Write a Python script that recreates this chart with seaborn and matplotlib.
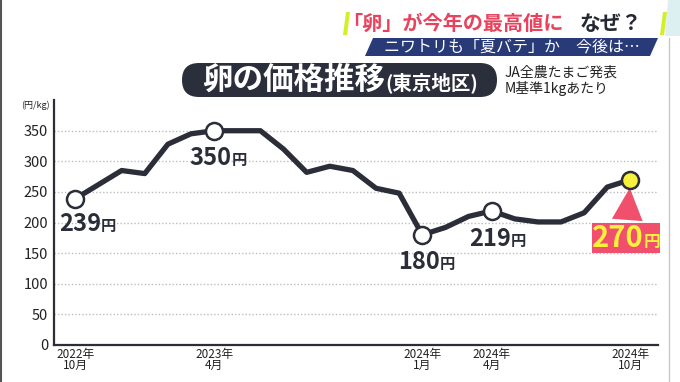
import numpy as np
import pandas as pd
import matplotlib.pyplot as plt
import seaborn as sns
from matplotlib.offsetbox import TextArea, HPacker, AnnotationBbox
from matplotlib.patches import Polygon, FancyBboxPatch
from matplotlib.lines import Line2D

# egg price, Tokyo, M size, yen per kg
months = ['2022-10', '2022-11', '2022-12', '2023-01', '2023-02', '2023-03',
          '2023-04', '2023-05', '2023-06', '2023-07', '2023-08', '2023-09',
          '2023-10', '2023-11', '2023-12', '2024-01', '2024-02', '2024-03',
          '2024-04', '2024-05', '2024-06', '2024-07', '2024-08', '2024-09',
          '2024-10']
prices = [239, 262, 285, 280, 328, 345, 350, 350, 350, 320, 282, 292,
          285, 256, 248, 180, 192, 210, 219, 206, 201, 201, 216, 258, 270]

tick_months = ['2022-10', '2023-04', '2024-01', '2024-04', '2024-10']
tick_labels = ['2022年\n10月', '2023年\n4月', '2024年\n1月', '2024年\n4月', '2024年\n10月']
y_ticks = [0, 50, 100, 150, 200, 250, 300, 350]

marked_months = ['2022-10', '2023-04', '2024-01', '2024-04']
latest_month = '2024-10'

ink = '#2b2d38'
pink = '#f0506c'
yellow = '#f7f03c'

sns.set_style('white')
plt.rcParams['font.family'] = ['Noto Sans CJK JP', 'DejaVu Sans']

df = pd.DataFrame({'month': months, 'price': prices})
df['pos'] = np.arange(len(df))

fig = plt.figure(figsize=(6.8, 3.82), dpi=100)
ax = fig.add_axes([0.0799, 0.0969, 0.888, 0.641])

sns.lineplot(data=df, x='pos', y='price', color=ink, linewidth=3.8,
             ax=ax, zorder=3, solid_joinstyle='round', solid_capstyle='round')
sns.scatterplot(data=df[df['month'].isin(marked_months)], x='pos', y='price',
                s=150, color='white', edgecolor=ink, linewidth=1.8, zorder=5, ax=ax)
sns.scatterplot(data=df[df['month'] == latest_month], x='pos', y='price',
                s=150, color=yellow, edgecolor=ink, linewidth=1.8, zorder=5, ax=ax)

ax.set_xlim(-0.91, 25.2)
ax.set_ylim(0, 400)
ax.set_yticks(y_ticks)
ax.set_xticks([months.index(m) for m in tick_months])
ax.set_xticklabels(tick_labels, linespacing=0.85)
ax.set_xlabel('')
ax.set_ylabel('')
ax.yaxis.grid(True, linestyle=(0, (1, 1.5)), color='#bdbdbd', linewidth=1)
ax.xaxis.grid(False)
for s in ['top', 'right']:
    ax.spines[s].set_visible(False)
for s in ['left', 'bottom']:
    ax.spines[s].set_color(ink)
    ax.spines[s].set_linewidth(1.6)
ax.tick_params(axis='y', length=0, pad=4.5, labelsize=10.5, labelcolor='#222222')
ax.tick_params(axis='x', direction='in', length=4, width=1.3, color=ink,
               labelsize=8.5, pad=2, labelcolor='#222222')
ax.text(-0.008, 0.98, '(円/kg)', transform=ax.transAxes, ha='right', va='center',
        fontsize=6.5, color='#222222')


def yen_label(value, num_size, yen_size, color):
    num = TextArea(str(value), textprops=dict(fontsize=num_size, fontweight='bold', color=color))
    yen = TextArea('円', textprops=dict(fontsize=yen_size, fontweight='bold', color=color))
    return HPacker(children=[num, yen], align='baseline', pad=0, sep=0)


# label offsets in pixels from the point
offsets = {'2022-10': (12, -25), '2023-04': (4, -27), '2024-01': (4, -27), '2024-04': (6, -28)}
for m in marked_months:
    row = df[df['month'] == m].iloc[0]
    dx, dy = offsets[m]
    ab = AnnotationBbox(yen_label(row['price'], 17, 11, ink), (row['pos'], row['price']),
                        xybox=(dx * 0.72, dy * 0.72), xycoords='data',
                        boxcoords='offset points', frameon=False,
                        box_alignment=(0.5, 0.5), zorder=6)
    ax.add_artist(ab)

last = df[df['month'] == latest_month].iloc[0]
ab = AnnotationBbox(yen_label(last['price'], 21, 12, yellow), (last['pos'], last['price']),
                    xybox=(-4.5 * 0.72, -58 * 0.72), xycoords='data',
                    boxcoords='offset points', frameon=True, fontsize=10, pad=0.35,
                    bboxprops=dict(boxstyle='square,pad=0', fc=pink, ec='none'),
                    arrowprops=dict(arrowstyle='wedge,tail_width=0.8,shrink_factor=0.5',
                                    fc=pink, ec='none', mutation_scale=20, shrinkB=6),
                    box_alignment=(0.5, 0.5), zorder=4)
ax.add_artist(ab)


# header, positions in pixels of the 680x382 frame
def px(x, y):
    return (x / 100, (382 - y) / 100)


tr = fig.dpi_scale_trans
fig.add_artist(Polygon([px(343, 35), px(346, 12), px(350, 12), px(347, 35)],
                       closed=True, fc='#d4ef2a', ec='none', transform=tr))
fig.add_artist(Polygon([px(665, 36), px(668, 0), px(680, 0), px(680, 36)],
                       closed=True, fc='#dcf0f2', ec='none', transform=tr))
fig.add_artist(Polygon([px(660, 35), px(663, 12), px(667, 12), px(664, 35)],
                       closed=True, fc='#d4ef2a', ec='none', transform=tr))
fig.text(*px(342, 23), '「卵」が今年の最高値に', transform=tr, ha='left', va='center',
         fontsize=14.5, fontweight='bold', color='#e8425c')
fig.text(*px(580, 23), 'なぜ？', transform=tr, ha='left', va='center',
         fontsize=15, fontweight='bold', color='#262833')

fig.add_artist(Polygon([px(365, 56), px(373, 38), px(658, 38), px(650, 56)],
                       closed=True, fc='#283a78', ec='none', transform=tr))
fig.text(*px(512, 47), 'ニワトリも「夏バテ」か　今後は…', transform=tr, ha='center', va='center',
         fontsize=11.5, color='white')

fig.add_artist(FancyBboxPatch(px(182, 97), 3.15, 0.34,
                              boxstyle='round,pad=0,rounding_size=0.17',
                              fc='#2b2e3b', ec='none', transform=tr))
title = HPacker(children=[
    TextArea('卵の価格推移', textprops=dict(fontsize=22, fontweight='bold', color='white')),
    TextArea('(東京地区)', textprops=dict(fontsize=14, fontweight='bold', color='white'))],
    align='baseline', pad=0, sep=0)
fig.add_artist(AnnotationBbox(title, px(340, 80), xycoords=tr, frameon=False,
                              box_alignment=(0.5, 0.5)))

fig.text(*px(505, 72.5), 'JA全農たまご発表', transform=tr, ha='left', va='center',
         fontsize=10, color='#222222')
fig.text(*px(505, 89), 'M基準1kgあたり', transform=tr, ha='left', va='center',
         fontsize=10, color='#222222')

fig.add_artist(Line2D([0.0015, 0.0015], [0, 1], color='#555555', linewidth=1.5))
fig.add_artist(Line2D([669 / 680, 669 / 680], [0, 0.9], color='#c8c8c8', linewidth=1))

fig.savefig('out.png', dpi=100)
